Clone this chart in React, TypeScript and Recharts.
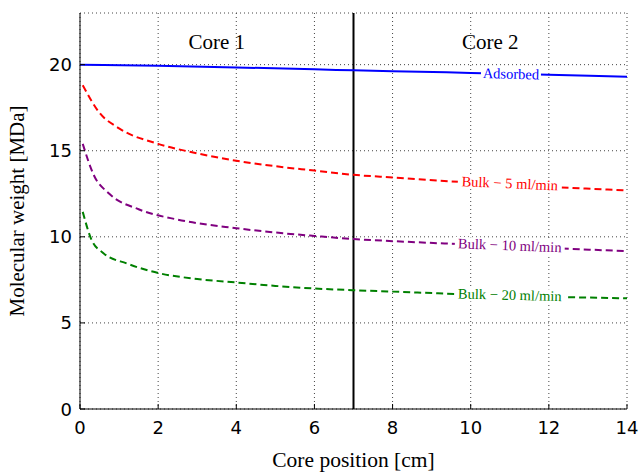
import React from 'react';
import { LineChart, Line, XAxis, YAxis, CartesianGrid, ReferenceLine, ReferenceDot } from 'recharts';

// Molecular weight along the core, adsorbed vs. bulk at three flow rates
const adsorbedPos = [0, 2, 4, 6, 7, 8, 10, 12, 14];
const adsorbedMw = [20.0, 19.93, 19.84, 19.73, 19.67, 19.62, 19.52, 19.41, 19.3];

const bulk5Pos = [0.07, 0.5, 1, 2, 3, 4, 5, 6, 7, 8, 10, 12, 14];
const bulk5Mw = [18.8, 17.2, 16.3, 15.4, 14.85, 14.42, 14.1, 13.85, 13.6, 13.45, 13.15, 12.9, 12.7];

const bulk10Pos = [0.07, 0.35, 0.75, 1.5, 2.5, 4, 5, 6, 7, 8, 10, 12, 14];
const bulk10Mw = [15.4, 13.6, 12.5, 11.6, 11.0, 10.5, 10.25, 10.05, 9.87, 9.75, 9.55, 9.35, 9.17];

const bulk20Pos = [0.07, 0.3, 0.6, 1.2, 2, 3, 4, 5, 6, 7, 8, 10, 12, 14];
const bulk20Mw = [11.45, 9.8, 9.05, 8.45, 7.9, 7.55, 7.35, 7.15, 7.0, 6.9, 6.82, 6.65, 6.52, 6.43];

const xTicks = [0, 2, 4, 6, 8, 10, 12, 14];
const yTicks = [0, 5, 10, 15, 20];

// inline line labels: text, anchor position, rotation
const lineLabels = [
  { text: 'Adsorbed', x: 11.03, y: 19.44, color: '#0000ff', angle: 1.5, w: 60 },
  { text: 'Bulk − 5 ml/min', x: 11.0, y: 13.08, color: '#ff0000', angle: 2.5, w: 104 },
  { text: 'Bulk − 10 ml/min', x: 11.0, y: 9.48, color: '#800080', angle: 2.2, w: 110 },
  { text: 'Bulk − 20 ml/min', x: 11.0, y: 6.6, color: '#008000', angle: 1.4, w: 110 },
];

const coreLabels = [
  { text: 'Core 1', x: 3.5, y: 21.3 },
  { text: 'Core 2', x: 10.5, y: 21.3 },
];

const zip = (xs: number[], ys: number[]) => xs.map((x, i) => ({ x, y: ys[i] }));

const SERIF = '"Liberation Serif", "DejaVu Serif", serif';
const SANS = '"DejaVu Sans", sans-serif';

const BottomTick = (props: any) => {
  const { x, y, payload } = props;
  return (
    <g>
      <line x1={x} y1={y} x2={x} y2={y - 5} stroke="#000" />
      <text x={x} y={y + 25} textAnchor="middle" fontSize={18} fontFamily={SANS} fill="#000">
        {payload.value}
      </text>
    </g>
  );
};

const TopTick = (props: any) => {
  const { x, y } = props;
  return <line x1={x} y1={y} x2={x} y2={y + 5} stroke="#000" />;
};

const LeftTick = (props: any) => {
  const { x, y, payload } = props;
  return (
    <g>
      <line x1={x} y1={y} x2={x + 5} y2={y} stroke="#000" />
      <text x={x - 8} y={y + 6.5} textAnchor="end" fontSize={18} fontFamily={SANS} fill="#000">
        {payload.value}
      </text>
    </g>
  );
};

const RightTick = (props: any) => {
  const { x, y } = props;
  return <line x1={x} y1={y} x2={x - 5} y2={y} stroke="#000" />;
};

export default function App() {
  return (
    <div style={{ position: 'absolute', left: 0, top: 0, width: 641, height: 474, background: '#fff' }}>
      <LineChart width={641} height={474} margin={{ top: 13, right: 14, bottom: 0, left: 0 }}>
        <CartesianGrid stroke="#444" strokeDasharray="1 3" strokeWidth={1} />
        <XAxis
          xAxisId={0}
          type="number"
          dataKey="x"
          domain={[0, 14]}
          ticks={xTicks}
          allowDataOverflow
          height={65}
          tickSize={0}
          tickMargin={0}
          tickLine={false}
          axisLine={{ stroke: '#000', strokeWidth: 1 }}
          tick={<BottomTick />}
          label={{
            content: (p: any) => (
              <text x={p.viewBox.x + p.viewBox.width / 2} y={467} textAnchor="middle" fontSize={21.5} fontFamily={SERIF} fill="#000">
                Core position [cm]
              </text>
            ),
          }}
        />
        <XAxis
          xAxisId="top"
          orientation="top"
          type="number"
          domain={[0, 14]}
          ticks={xTicks}
          height={0}
          tickSize={0}
          tickMargin={0}
          tickLine={false}
          axisLine={{ stroke: '#000', strokeWidth: 1 }}
          tick={<TopTick />}
        />
        <YAxis
          yAxisId={0}
          type="number"
          domain={[0, 23]}
          ticks={yTicks}
          width={80}
          tickSize={0}
          tickMargin={0}
          tickLine={false}
          axisLine={{ stroke: '#000', strokeWidth: 1 }}
          tick={<LeftTick />}
          label={{
            content: (p: any) => {
              const cy = p.viewBox.y + p.viewBox.height / 2;
              return (
                <text x={24} y={cy} transform={`rotate(-90 24 ${cy})`} textAnchor="middle" fontSize={21} fontFamily={SERIF} fill="#000">
                  Molecular weight [MDa]
                </text>
              );
            },
          }}
        />
        <YAxis
          yAxisId="right"
          orientation="right"
          type="number"
          domain={[0, 23]}
          ticks={yTicks}
          width={0}
          tickSize={0}
          tickMargin={0}
          tickLine={false}
          axisLine={{ stroke: '#000', strokeWidth: 1 }}
          tick={<RightTick />}
        />
        <ReferenceLine x={7} stroke="#000" strokeWidth={2} />
        <Line data={zip(adsorbedPos, adsorbedMw)} dataKey="y" type="monotone" stroke="#0000ff" strokeWidth={2} dot={false} isAnimationActive={false} />
        <Line data={zip(bulk5Pos, bulk5Mw)} dataKey="y" type="monotone" stroke="#ff0000" strokeWidth={2} strokeDasharray="7 4" dot={false} isAnimationActive={false} />
        <Line data={zip(bulk10Pos, bulk10Mw)} dataKey="y" type="monotone" stroke="#800080" strokeWidth={2} strokeDasharray="7 4" dot={false} isAnimationActive={false} />
        <Line data={zip(bulk20Pos, bulk20Mw)} dataKey="y" type="monotone" stroke="#008000" strokeWidth={2} strokeDasharray="7 4" dot={false} isAnimationActive={false} />
        {lineLabels.map((l) => (
          <ReferenceDot
            key={l.text}
            x={l.x}
            y={l.y}
            shape={(p: any) => (
              <g transform={`rotate(${l.angle} ${p.cx} ${p.cy})`}>
                <rect x={p.cx - l.w / 2} y={p.cy - 7} width={l.w} height={14} fill="#fff" />
                <text x={p.cx} y={p.cy + 4.5} textAnchor="middle" fontSize={14.5} fontFamily={SERIF} fill={l.color}>
                  {l.text}
                </text>
              </g>
            )}
          />
        ))}
        {coreLabels.map((c) => (
          <ReferenceDot
            key={c.text}
            x={c.x}
            y={c.y}
            shape={(p: any) => (
              <text x={p.cx} y={p.cy + 6.5} textAnchor="middle" fontSize={21} fontFamily={SERIF} fill="#000">
                {c.text}
              </text>
            )}
          />
        ))}
      </LineChart>
    </div>
  );
}
